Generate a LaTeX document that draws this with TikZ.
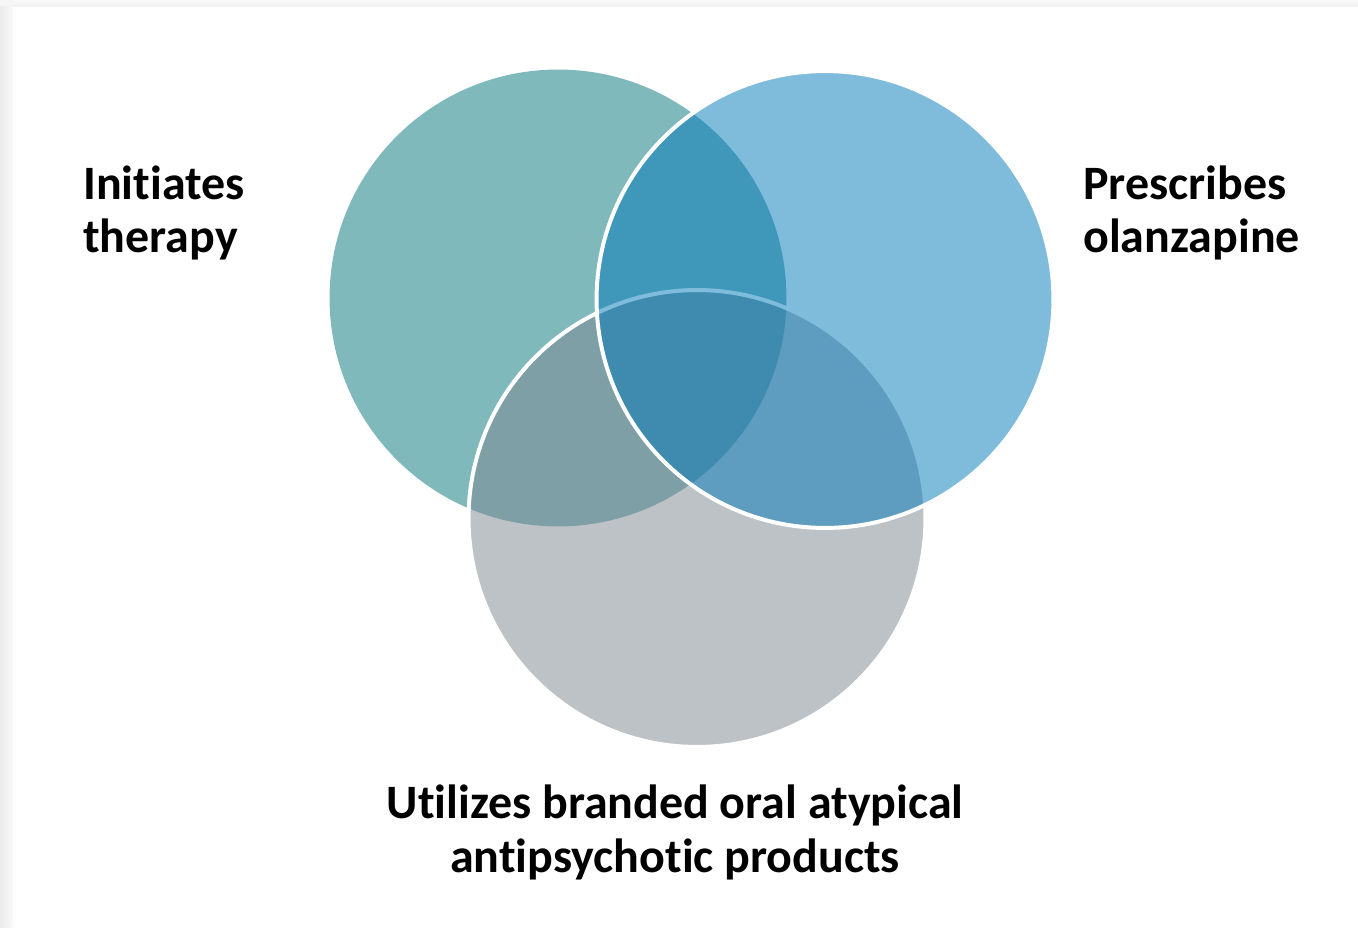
\documentclass[tikz,border=0pt]{standalone}
\usepackage{fontspec}
\setmainfont{Carlito}[Ligatures=NoCommon]
\usetikzlibrary{positioning}

\definecolor{tealset}{RGB}{1,117,123}
\definecolor{blueset}{RGB}{1,121,185}
\definecolor{greyset}{RGB}{125,135,143}

\tikzset{
    setdisk/.style={circle, inner sep=0pt, minimum size=9.14cm, fill opacity=0.5},
    rim/.style={draw=white, line width=0.08cm},
    setlabel/.style={inner sep=0pt, font=\bfseries\fontsize{27.3}{30.6}\selectfont}
}

\begin{document}
\begin{tikzpicture}[x=0.02cm, y=0.02cm]
    % page with a soft shadow on the left and top edges
    \useasboundingbox (0,0) rectangle (1358,927);
    \fill[gray!7] (0,0) rectangle (1358,927);
    \shade[left color=gray!16, right color=gray!4] (0,0) rectangle (13,920);
    \shade[top color=gray!4, bottom color=gray!12] (13,920) rectangle (1358,927);
    \fill[white] (13,0) rectangle (1358,920);

    % the three sets, back to front
    \node[setdisk, fill=tealset] (therapy) at (558,629) {};
    \node[setdisk, rim, fill=greyset] (products) at (697,408.5) {};
    \node[setdisk, rim, fill=blueset] (olanzapine) at (825,627.5) {};

    % set names (base anchor sits on the last line)
    \node[setlabel, anchor=base west, align=left] (lblTherapy) at (83,674) {Initiates\\therapy};
    \node[setlabel, anchor=base west, align=left] (lblOlanzapine) at (1083,674) {Prescribes\\olanzapine};
    \node[setlabel, anchor=base, align=center] (lblProducts) at (675,55) {Utilizes branded oral atypical\\antipsychotic products};
\end{tikzpicture}
\end{document}
